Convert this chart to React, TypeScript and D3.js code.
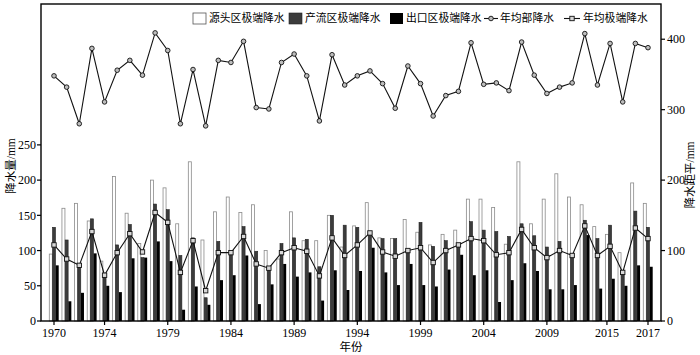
import React from "react";
import * as d3 from "d3";

const years = [1970,1971,1972,1973,1974,1975,1976,1977,1978,1979,1980,1981,1982,1983,1984,1985,1986,1987,1988,1989,1990,1991,1992,1993,1994,1995,1996,1997,1998,1999,2000,2001,2002,2003,2004,2005,2006,2007,2008,2009,2010,2011,2012,2013,2014,2015,2016,2017];
const sourceExt = [95,160,167,142,85,205,153,110,200,189,138,226,115,155,176,154,165,100,88,155,114,114,150,105,135,168,118,117,144,126,108,123,129,173,173,161,109,226,138,173,209,176,165,134,123,97,196,167];
const prodExt = [133,115,80,145,66,108,137,90,166,158,93,118,33,113,97,134,99,76,110,118,116,77,150,136,133,126,117,117,100,140,106,114,109,141,129,127,120,138,121,105,113,93,143,117,136,69,156,133];
const outletExt = [79,28,40,96,50,41,89,90,113,85,16,49,23,58,65,93,24,52,81,63,69,29,72,44,71,104,69,51,81,51,49,73,94,65,72,27,58,82,71,45,45,51,122,46,60,50,79,77];
const meanExt = [108,88,79,127,65,97,124,98,154,140,69,114,43,97,97,120,81,75,97,104,99,64,118,93,108,125,98,92,100,104,83,100,108,117,114,94,97,130,104,90,100,93,135,93,106,69,132,117];
const annual = [348,332,280,387,311,356,370,349,409,384,280,357,277,370,367,397,303,301,367,379,348,284,378,335,348,355,337,302,362,337,291,320,326,395,336,338,327,396,349,323,332,338,408,335,394,311,394,388];

const xTickPos = [1970,1974,1979,1984,1989,1994,1999,2004,2009,2013.75,2017];
const xTickLabels = ["1970","1974","1979","1984","1989","1994","1999","2004","2009","2015","2017"];
const leftTicks = [0,50,100,150,200,250];
const rightTicks = [0,100,200,300,400];
const legendLabels = ["源头区极端降水","产流区极端降水","出口区极端降水","年均部降水","年均极端降水"];

const FONT = "'Liberation Serif', 'Noto Sans CJK SC', serif";

export default function App() {
  const W = 700, H = 355;
  const L = 41, R = 661, T = 4, B = 321;
  const x = d3.scaleLinear().domain([1970, 2017]).range([54, 648]);
  const y = d3.scaleLinear().domain([0, 450]).range([B, T]);
  const bw = 3;
  const off = 3.2;

  const lineGen = d3.line<number>().x((_, i) => x(years[i])).y((d) => y(d));

  const legendX = [193, 289, 390, 484, 564];
  const legendTextX = [209, 305, 406, 500, 583];

  return (
    <svg width={W} height={H} style={{ position: "absolute", left: 0, top: 0, background: "#fff" }} fontFamily={FONT}>
      {/* bars */}
      {years.map((yr, i) => (
        <g key={yr}>
          <rect x={x(yr) - off - bw / 2} y={y(sourceExt[i])} width={bw} height={y(0) - y(sourceExt[i])} fill="#fff" stroke="#8a8a8a" strokeWidth={0.8} />
          <rect x={x(yr) - bw / 2} y={y(prodExt[i])} width={bw} height={y(0) - y(prodExt[i])} fill="#3c3c3c" stroke="#222" strokeWidth={0.6} />
          <rect x={x(yr) + off - bw / 2} y={y(outletExt[i])} width={bw} height={y(0) - y(outletExt[i])} fill="#000" />
        </g>
      ))}
      {/* mean extreme line */}
      <path d={lineGen(meanExt) || ""} fill="none" stroke="#111" strokeWidth={1.1} />
      {years.map((yr, i) => (
        <rect key={"s" + yr} x={x(yr) - 2.2} y={y(meanExt[i]) - 2.2} width={4.4} height={4.4} fill="#d8d8d8" stroke="#111" strokeWidth={0.9} />
      ))}
      {/* annual line */}
      <path d={lineGen(annual) || ""} fill="none" stroke="#111" strokeWidth={1.1} />
      {years.map((yr, i) => (
        <circle key={"c" + yr} cx={x(yr)} cy={y(annual[i])} r={2.3} fill="#bdbdbd" stroke="#111" strokeWidth={0.9} />
      ))}
      {/* frame */}
      <rect x={L} y={T} width={R - L} height={B - T} fill="none" stroke="#000" strokeWidth={1.4} />
      {/* left axis */}
      {leftTicks.map((t) => (
        <g key={"l" + t}>
          <line x1={L - 4} x2={L} y1={y(t)} y2={y(t)} stroke="#000" strokeWidth={1.2} />
          <text x={L - 5} y={y(t)} dy="0.35em" textAnchor="end" fontSize={12}>{t}</text>
        </g>
      ))}
      {/* right axis */}
      {rightTicks.map((t) => (
        <g key={"r" + t}>
          <line x1={R} x2={R + 4} y1={y(t)} y2={y(t)} stroke="#000" strokeWidth={1.2} />
          <text x={R + 6} y={y(t)} dy="0.35em" textAnchor="start" fontSize={12}>{t}</text>
        </g>
      ))}
      {/* x axis */}
      {xTickPos.map((t, i) => (
        <g key={"x" + i}>
          <line x1={x(t)} x2={x(t)} y1={B} y2={B + 4} stroke="#000" strokeWidth={1.2} />
          <text x={x(t)} y={B + 16} textAnchor="middle" fontSize={12}>{xTickLabels[i]}</text>
        </g>
      ))}
      <text x={351} y={351} textAnchor="middle" fontSize={11.5}>年份</text>
      <text transform="translate(15,166) rotate(-90)" textAnchor="middle" fontSize={11.5}>降水量/mm</text>
      <text transform="translate(694,175) rotate(-90)" textAnchor="middle" fontSize={11.5}>降水距平/mm</text>
      {/* legend */}
      <rect x={legendX[0]} y={13} width={13} height={11} fill="#fff" stroke="#555" strokeWidth={0.8} />
      <rect x={legendX[1]} y={13} width={13} height={11} fill="#3c3c3c" stroke="#222" strokeWidth={0.6} />
      <rect x={legendX[2]} y={13} width={13} height={11} fill="#000" />
      <line x1={legendX[3]} x2={legendX[3] + 14} y1={18.5} y2={18.5} stroke="#111" strokeWidth={1.1} />
      <circle cx={legendX[3] + 7} cy={18.5} r={2.3} fill="#bdbdbd" stroke="#111" strokeWidth={0.9} />
      <line x1={legendX[4]} x2={legendX[4] + 16} y1={18.5} y2={18.5} stroke="#111" strokeWidth={1.1} />
      <rect x={legendX[4] + 5.8} y={16.3} width={4.4} height={4.4} fill="#d8d8d8" stroke="#111" strokeWidth={0.9} />
      {legendLabels.map((lab, i) => (
        <text key={lab} x={legendTextX[i]} y={18.5} dy="0.36em" fontSize={10.8}>{lab}</text>
      ))}
    </svg>
  );
}
